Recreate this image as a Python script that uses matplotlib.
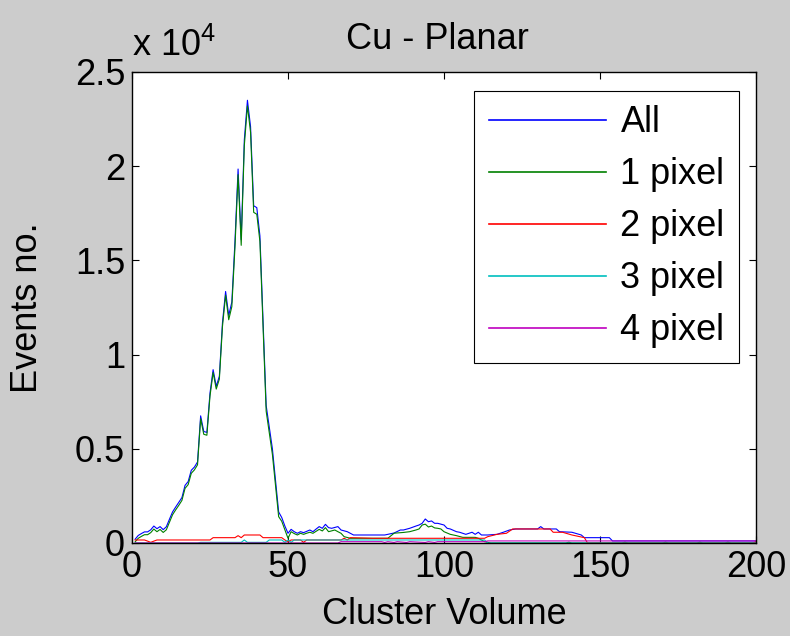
import numpy as np
import matplotlib
matplotlib.use("Agg")
import matplotlib.pyplot as plt
from matplotlib.ticker import FixedLocator, FixedFormatter

plt.rcParams['font.family'] = ['Liberation Sans', 'DejaVu Sans']
plt.rcParams['mathtext.fontset'] = 'custom'
plt.rcParams['mathtext.rm'] = 'Liberation Sans'
plt.rcParams['mathtext.default'] = 'regular'

# ---- data ----
all_x = [1, 2, 3, 4, 5, 6, 7, 8, 9, 10, 11, 12, 13, 14, 15, 16, 17, 18, 19, 20,
         21, 22, 23, 24, 25, 26, 27, 28, 29, 30, 31, 32, 33, 34, 35, 36, 37, 38,
         39, 40, 41, 43, 45, 47, 48, 49, 50, 51, 52, 53, 54, 55, 56, 57, 58, 59,
         60, 61, 62, 63, 64, 66, 67, 69, 71, 81, 84, 86, 87, 89, 91, 92, 93, 94,
         95, 96, 97, 98, 99, 100, 101, 102, 104, 105, 107, 109, 110, 111, 112,
         114, 117, 119, 121, 123, 130, 131, 132, 136, 137, 141, 144, 145, 153,
         154, 200]
all_y = [200, 400, 500, 590, 590, 700, 900, 760, 870, 710, 860, 1260, 1650, 1910,
         2160, 2410, 3060, 3260, 3860, 4030, 4300, 6750, 5920, 5870, 7960, 9200,
         8320, 8850, 11700, 13350, 12080, 12790, 16000, 19850, 16100, 21400, 23500,
         22100, 17900, 17800, 16300, 7300, 5000, 1650, 1350, 900, 515, 725, 600,
         515, 600, 550, 620, 690, 600, 740, 870, 780, 990, 815, 780, 870, 690, 600,
         425, 425, 530, 690, 690, 780, 900, 955, 1045, 1275, 1130, 1170, 1045, 1045,
         1000, 955, 780, 745, 600, 570, 460, 570, 460, 570, 425, 425, 460, 570, 690,
         745, 745, 870, 745, 745, 600, 570, 425, 283, 283, 110, 110]

px1_x = [1, 2, 3, 4, 5, 6, 7, 8, 9, 10, 11, 12, 13, 14, 15, 16, 17, 18, 19, 20,
         21, 22, 23, 24, 25, 26, 27, 28, 29, 30, 31, 32, 33, 34, 35, 36, 37, 38,
         39, 40, 41, 43, 45, 47, 48, 49, 50, 51, 52, 53, 54, 55, 56, 57, 58, 59,
         60, 61, 62, 63, 65, 66, 67, 68, 70, 82, 84, 87, 89, 91, 92, 93, 94, 95,
         96, 97, 98, 99, 100, 102, 104, 106, 110, 111, 112, 113, 115, 139, 140,
         141, 157, 158, 159, 170, 171, 172, 181, 182, 183, 190, 191, 192, 200]
px1_y = [60, 250, 350, 440, 440, 550, 740, 600, 720, 560, 700, 1100, 1500, 1760,
         2000, 2260, 2900, 3100, 3700, 3880, 4150, 6600, 5770, 5720, 7800, 9050,
         8170, 8700, 11500, 13150, 11850, 12550, 15700, 19550, 15800, 21100, 23200,
         21800, 17550, 17450, 16000, 7000, 4700, 1400, 1150, 700, 250, 600, 500,
         425, 515, 460, 520, 570, 515, 620, 725, 640, 815, 600, 690, 600, 515, 335,
         250, 250, 520, 560, 600, 690, 745, 955, 1000, 850, 900, 800, 780, 745, 600,
         460, 390, 300, 300, 250, 160, 70, 0, 0, 40, 0, 0, 40, 0, 0, 40, 0, 0, 40, 0,
         0, 40, 0, 0]

px2_x = [1, 4, 5, 6, 7, 8, 25, 26, 33, 34, 35, 36, 41, 42, 48, 49, 50, 51, 54, 55,
         56, 67, 68, 69, 70, 77, 113, 114, 117, 120, 122, 134, 135, 138, 141, 145,
         146, 199, 200]
px2_y = [160, 160, 100, 35, 100, 160, 160, 283, 283, 390, 283, 425, 425, 283, 283,
         160, 70, 160, 160, 35, 160, 160, 250, 160, 283, 250, 250, 335, 460, 515, 745,
         745, 570, 570, 425, 283, 0, 0, 70]

px3_x = [1, 21, 22, 35, 36, 37, 43, 44, 48, 49, 50, 51, 52, 113, 114, 200]
px3_y = [0, 0, 35, 35, 160, 35, 35, 160, 160, 35, 160, 35, 160, 160, 0, 0]

px4_x = [1, 66, 67, 80, 81, 82, 84, 85, 88, 89, 94, 95, 97, 98, 113, 114, 200]
px4_y = [0, 0, 70, 70, 30, 70, 30, 70, 30, 70, 30, 70, 30, 70, 70, 110, 110]

labels = ['All', '1 pixel', '2 pixel', '3 pixel', '4 pixel']
colors = ['#0000ff', '#008000', '#ff0000', '#00bfbf', '#bf00bf']

y_ticks = [0, 5000, 10000, 15000, 20000, 25000]
y_tick_labels = ['0', '0.5', '1', '1.5', '2', '2.5']
x_ticks = [0, 50, 100, 150, 200]

# ---- figure ----
fig = plt.figure(figsize=(7.9, 6.36), dpi=100, facecolor='#cccccc')
ax = fig.add_axes([132 / 790, 1 - 543 / 636, 624 / 790, 471 / 636])
ax.set_facecolor('white')

series = [(all_x, all_y), (px1_x, px1_y), (px2_x, px2_y), (px3_x, px3_y), (px4_x, px4_y)]
for (xs, ys), lab, c in zip(series, labels, colors):
    ax.plot(xs, ys, color=c, lw=0.8, label=lab)

ax.set_xlim(0, 200)
ax.set_ylim(0, 25000)
ax.set_xticks(x_ticks)
ax.yaxis.set_major_locator(FixedLocator(y_ticks))
ax.yaxis.set_major_formatter(FixedFormatter(y_tick_labels))
ax.tick_params(direction='in', top=True, right=True, length=5, width=0.8,
               labelsize=26, pad=5, colors='black')
for s in ax.spines.values():
    s.set_linewidth(1.0)

ax.set_xlabel('Cluster Volume', fontsize=26)
ax.xaxis.set_label_coords(0.5, -0.115)
ax.set_ylabel('Events no.', fontsize=26)
ax.yaxis.set_label_coords(-0.14, 0.5)

ax.text(0.49, 1.048, 'Cu - Planar', transform=ax.transAxes, ha='center',
        va='baseline', fontsize=26)
ax.text(0.0, 1.035, 'x 10$^4$', transform=ax.transAxes, ha='left',
        va='baseline', fontsize=26)

leg = ax.legend(loc='upper right', bbox_to_anchor=(739 / 790, 1 - 91 / 636),
                bbox_transform=fig.transFigure, borderaxespad=0, fontsize=26,
                handlelength=3.25, handletextpad=0.4, labelspacing=0.47,
                borderpad=0.4, fancybox=False, framealpha=1)
leg.get_frame().set_edgecolor('black')
leg.get_frame().set_linewidth(0.8)
for line in leg.get_lines():
    line.set_linewidth(1.2)

fig.savefig('out.png', dpi=100, facecolor=fig.get_facecolor())
